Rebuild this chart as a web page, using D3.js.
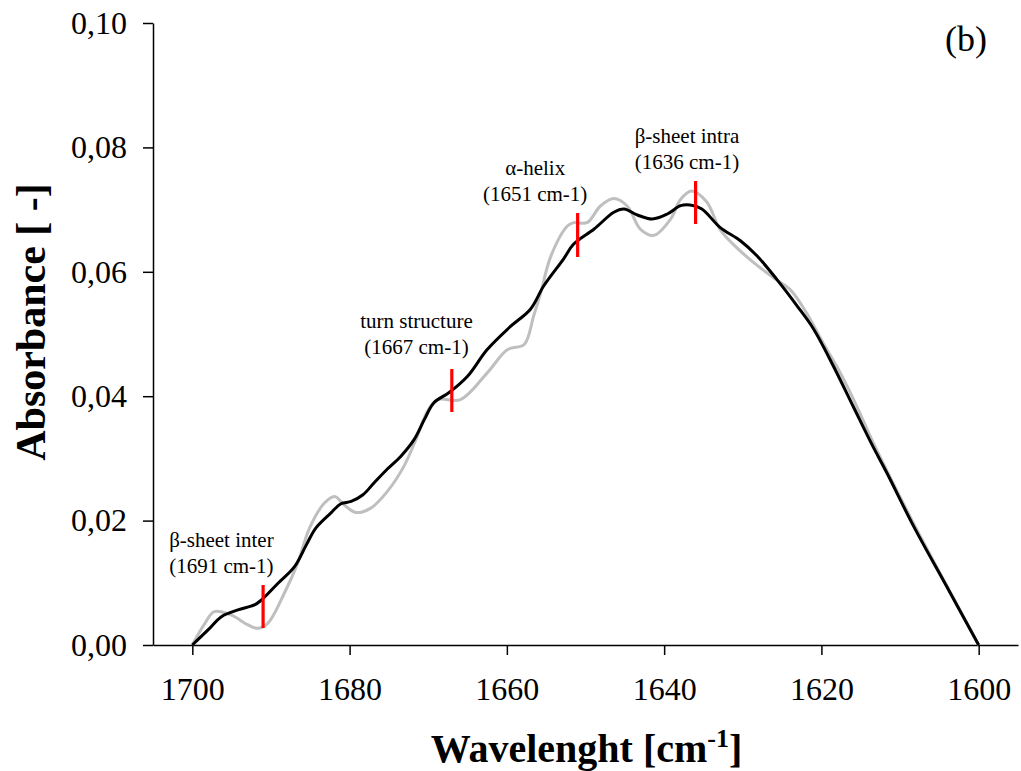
<!DOCTYPE html>
<html>
<head>
<meta charset="utf-8">
<script src="https://cdn.jsdelivr.net/npm/d3@7"></script>
<style>
  html, body { margin: 0; padding: 0; background: #fff; }
  svg { display: block; }
  text { font-family: "Liberation Serif", "Times New Roman", serif; fill: #000; }
</style>
</head>
<body>
<svg id="chart" width="1021" height="771"></svg>
<script>
// Trace A (black): wavenumber [cm-1] and absorbance
const traceAWave = [1700, 1698.0, 1696.3, 1694.2, 1692.1, 1691.2, 1689.1, 1687.0, 1685.5, 1684.3,
  1682.4, 1681.1, 1679.8, 1678.3, 1676.9, 1675.2, 1673.5, 1671.8, 1670.5, 1669.3,
  1667.3, 1665.0, 1662.5, 1659.5, 1657.0, 1655.3, 1652.8, 1651.5, 1648.9, 1646.4,
  1645.1, 1643.4, 1641.5, 1639.6, 1637.9, 1636.7, 1635.2, 1632.9, 1630.3, 1628.2,
  1625.7, 1623.1, 1621.0, 1618.5, 1616.0, 1613.6, 1611.7, 1608.3, 1604.1, 1600];
const traceAAbs = [0, 0.00242, 0.00456, 0.00565, 0.00644, 0.00725, 0.00993, 0.01260, 0.01610, 0.01879,
  0.02120, 0.02271, 0.02308, 0.02415, 0.02604, 0.02829, 0.03032, 0.03301, 0.03623, 0.03892,
  0.04063, 0.04321, 0.04750, 0.05126, 0.05399, 0.05775, 0.06205, 0.06446, 0.06688, 0.06957,
  0.07010, 0.06913, 0.06849, 0.06929, 0.07063, 0.07074, 0.07010, 0.06715, 0.06500, 0.06258,
  0.05882, 0.05453, 0.05081, 0.04490, 0.03846, 0.03229, 0.02773, 0.01915, 0.00948, 0];

// Trace B (grey): wavenumber [cm-1] and absorbance
const traceBWave = [1700, 1698.4, 1697.2, 1695.1, 1692.9, 1691.7, 1690.4, 1688.3, 1686.6, 1685.1,
  1683.2, 1681.9, 1680.7, 1679.2, 1677.3, 1675.2, 1673.1, 1671.4, 1670.1, 1668.8,
  1665.9, 1662.5, 1659.9, 1657.8, 1656.6, 1655.7, 1654.4, 1652.3, 1651.5, 1649.8,
  1648.1, 1646.4, 1644.7, 1643.0, 1641.3, 1639.2, 1637.9, 1636.5, 1634.6, 1632.9,
  1631.2, 1628.6, 1626.1, 1624.0, 1621.9, 1619.8, 1617.6, 1615.5, 1613.4, 1608.3,
  1604.1, 1600];
const traceBAbs = [0, 0.00349, 0.00536, 0.00483, 0.00322, 0.00268, 0.00349, 0.00832, 0.01316, 0.01879,
  0.02282, 0.02389, 0.02255, 0.02131, 0.02201, 0.02469, 0.02872, 0.03355, 0.03757, 0.03945,
  0.03945, 0.04375, 0.04750, 0.04831, 0.05287, 0.05663, 0.06253, 0.06736, 0.06790, 0.06790,
  0.07058, 0.07177, 0.07058, 0.06683, 0.06586, 0.06844, 0.07166, 0.07300, 0.07126, 0.06683,
  0.06441, 0.06146, 0.05904, 0.05717, 0.05341, 0.04858, 0.04375, 0.03838, 0.03248, 0.01960,
  0.00966, 0];

// Band assignments: position, marker span (absorbance), label lines and label anchor
const bandWave   = [1691, 1667, 1651, 1636];
const bandLow    = [0.00273, 0.03746, 0.06238, 0.06768];
const bandHigh   = [0.00965, 0.04437, 0.06945, 0.07460];
const bandName   = ["β-sheet inter", "turn structure", "α-helix", "β-sheet intra"];
const bandNote   = ["(1691 cm-1)", "(1667 cm-1)", "(1651 cm-1)", "(1636 cm-1)"];
const labelWave  = [1696.3, 1671.5, 1656.4, 1637.1];
const labelAbs   = [0.01575, 0.05101, 0.07561, 0.08075];

// Axis ticks
const xTicks = [1700, 1680, 1660, 1640, 1620, 1600];
const yTicks = [0, 0.02, 0.04, 0.06, 0.08, 0.10];

const svg = d3.select("#chart");
const plotLeft = 153, plotRight = 1018, plotTop = 23, plotBottom = 645;

const x = d3.scaleLinear().domain([1705, 1595]).range([plotLeft, plotRight]);
const y = d3.scaleLinear().domain([0, 0.10]).range([plotBottom, plotTop]);

const fmtY = v => d3.format(".2f")(v).replace(".", ",");

// X axis
const xAxis = svg.append("g")
  .attr("transform", `translate(0,${plotBottom})`)
  .call(d3.axisBottom(x).tickValues(xTicks).tickFormat(d3.format("d"))
    .tickSize(10).tickSizeOuter(0).tickPadding(22));
xAxis.select(".domain").attr("stroke", "#000").attr("stroke-width", 1.5);
xAxis.selectAll(".tick line").attr("stroke", "#000").attr("stroke-width", 1.5);
xAxis.selectAll(".tick text")
  .attr("font-family", "Liberation Serif, serif")
  .attr("font-size", 32)
  .attr("fill", "#000");

// Y axis
const yAxis = svg.append("g")
  .attr("transform", `translate(${plotLeft},0)`)
  .call(d3.axisLeft(y).tickValues(yTicks).tickFormat(fmtY)
    .tickSize(10).tickSizeOuter(0).tickPadding(16));
yAxis.select(".domain").attr("stroke", "#000").attr("stroke-width", 1.5);
yAxis.selectAll(".tick line").attr("stroke", "#000").attr("stroke-width", 1.5);
yAxis.selectAll(".tick text")
  .attr("font-family", "Liberation Serif, serif")
  .attr("font-size", 32)
  .attr("fill", "#000");

// Spectra
const line = d3.line()
  .x(d => x(d[0]))
  .y(d => y(d[1]))
  .curve(d3.curveCatmullRom.alpha(0.5));

const traceB = traceBWave.map((w, i) => [w, traceBAbs[i]]);
const traceA = traceAWave.map((w, i) => [w, traceAAbs[i]]);

svg.append("path").datum(traceB)
  .attr("d", line).attr("fill", "none")
  .attr("stroke", "#bfbfbf").attr("stroke-width", 3);

svg.append("path").datum(traceA)
  .attr("d", line).attr("fill", "none")
  .attr("stroke", "#000").attr("stroke-width", 3);

// Band markers
svg.append("g").selectAll("line")
  .data(bandWave)
  .join("line")
  .attr("x1", d => x(d)).attr("x2", d => x(d))
  .attr("y1", (d, i) => y(bandLow[i]))
  .attr("y2", (d, i) => y(bandHigh[i]))
  .attr("stroke", "#ff0000").attr("stroke-width", 3.2);

// Band labels
const labels = svg.append("g").selectAll("text")
  .data(bandWave)
  .join("text")
  .attr("text-anchor", "middle")
  .attr("font-size", 21)
  .attr("x", (d, i) => x(labelWave[i]))
  .attr("y", (d, i) => y(labelAbs[i]));
labels.append("tspan").text((d, i) => bandName[i]);
labels.append("tspan")
  .attr("x", (d, i) => x(labelWave[i]))
  .attr("dy", 26)
  .text((d, i) => bandNote[i]);

// Panel letter
svg.append("text")
  .attr("x", 966).attr("y", 51)
  .attr("text-anchor", "middle")
  .attr("font-size", 36)
  .text("(b)");

// Axis titles
const xTitle = svg.append("text")
  .attr("x", (plotLeft + 1016) / 2 + 2).attr("y", 762)
  .attr("text-anchor", "middle")
  .attr("font-size", 40).attr("font-weight", "bold");
xTitle.append("tspan").text("Wavelenght [cm");
xTitle.append("tspan").attr("font-size", 26).attr("dy", -15).text("-1");
xTitle.append("tspan").attr("dy", 15).text("]");

svg.append("text")
  .attr("transform", "translate(45,322) rotate(-90)")
  .attr("text-anchor", "middle")
  .attr("font-size", 42).attr("font-weight", "bold")
  .text("Absorbance [ -]");
</script>
</body>
</html>
